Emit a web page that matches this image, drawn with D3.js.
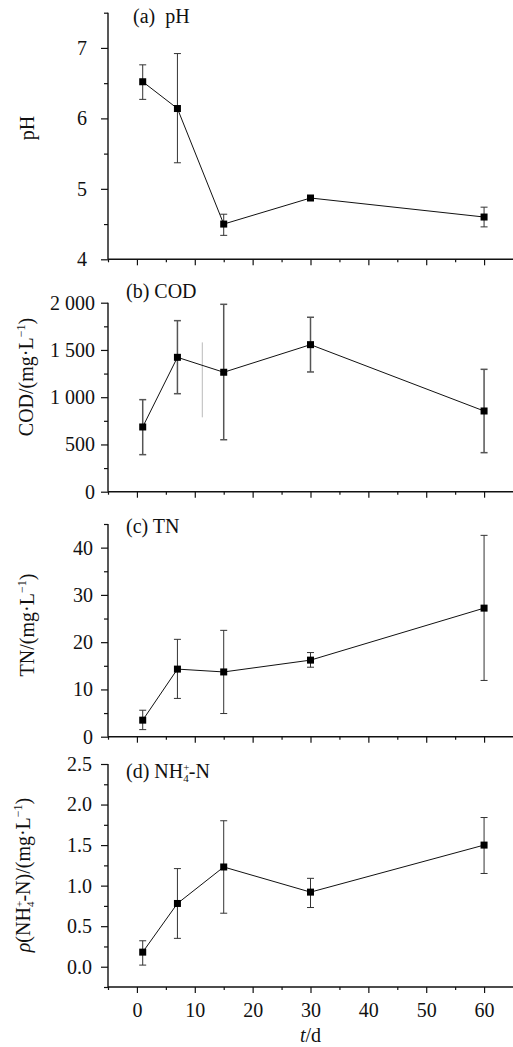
<!DOCTYPE html>
<html>
<head>
<meta charset="utf-8">
<script src="https://cdn.jsdelivr.net/npm/d3@7"></script>
<style>
    body { margin: 0; background: #fff; }
    svg text { font-family: "Liberation Serif", "Times New Roman", serif; fill: #111; }
</style>
</head>
<body>
<script>
// sampling days
const days = [1, 7, 15, 30, 60]
const xTicks = [0, 10, 20, 30, 40, 50, 60]

// (a) pH
const phMean = [6.52, 6.14, 4.50, 4.87, 4.60]
const phLow = [6.27, 5.37, 4.34, 4.84, 4.46]
const phHigh = [6.76, 6.92, 4.64, 4.90, 4.74]

// (b) COD, mg/L
const codMean = [685, 1422, 1264, 1556, 854]
const codLow = [392, 1037, 550, 1267, 413]
const codHigh = [974, 1810, 1983, 1846, 1295]
// stray grey line in the source figure
const codStray = { day: 11.3, low: 787, high: 1580 }

// (c) TN, mg/L
const tnMean = [3.5, 14.3, 13.7, 16.2, 27.2]
const tnLow = [1.5, 8.1, 4.9, 14.7, 11.9]
const tnHigh = [5.6, 20.6, 22.5, 17.8, 42.6]

// (d) NH4+-N, mg/L
const nhMean = [0.18, 0.78, 1.23, 0.92, 1.50]
const nhLow = [0.02, 0.35, 0.66, 0.73, 1.15]
const nhHigh = [0.32, 1.21, 1.80, 1.09, 1.84]

const W = 513, H = 1047
const left = 108, right = 513
const fs = '20px'

const svg = d3.select('body').append('svg')
    .attr('width', W)
    .attr('height', H)

const x = d3.scaleLinear().domain([-5, 65]).range([left, right])

const panels = [
    { top: 12.7, bottom: 259.3, domain: [4, 7.5], major: [4, 5, 6, 7], minor: [4.5, 5.5, 6.5, 7.5], pad: 14,
      fmt: d3.format('d'), mean: phMean, low: phLow, high: phHigh, tag: 'a', labelY: 128, labelX: 34 },
    { top: 302.7, bottom: 491.7, domain: [0, 2000], major: [0, 500, 1000, 1500, 2000], minor: [250, 750, 1250, 1750], pad: 6,
      fmt: v => d3.format(',')(v).replace(',', ' '), mean: codMean, low: codLow, high: codHigh, tag: 'b', labelY: 377, labelX: 33 },
    { top: 524, bottom: 736.7, domain: [0, 45], major: [0, 10, 20, 30, 40], minor: [5, 15, 25, 35, 45], pad: 8,
      fmt: d3.format('d'), mean: tnMean, low: tnLow, high: tnHigh, tag: 'c', labelY: 625, labelX: 34 },
    { top: 764, bottom: 987, domain: [-0.25, 2.5], major: [0, 0.5, 1, 1.5, 2, 2.5], minor: [-0.25, 0.25, 0.75, 1.25, 1.75, 2.25], pad: 9,
      fmt: d3.format('.1f'), mean: nhMean, low: nhLow, high: nhHigh, tag: 'd', labelY: 875, labelX: 30 }
]

panels.forEach((p, pi) => {
    const y = d3.scaleLinear().domain(p.domain).range([p.bottom, p.top])
    const g = svg.append('g')

    // x axis: major + minor ticks, labels only on the last panel
    const xAxis = g.append('g')
        .attr('transform', `translate(0,${p.bottom})`)
        .call(d3.axisBottom(x).tickValues(xTicks).tickSize(6).tickPadding(10)
            .tickFormat(pi === 3 ? d3.format('d') : ''))
    xAxis.select('.domain').attr('stroke', '#111').attr('stroke-width', 1.4).attr('d', `M${left},0H${right}`)
    xAxis.selectAll('.tick line').attr('stroke', '#111').attr('stroke-width', 1.2)
    xAxis.selectAll('text').style('font-size', fs).attr('fill', '#111')

    const xMinor = g.append('g')
        .attr('transform', `translate(0,${p.bottom})`)
        .call(d3.axisBottom(x).tickValues([-5, 5, 15, 25, 35, 45, 55]).tickSize(3).tickFormat(''))
    xMinor.select('.domain').remove()
    xMinor.selectAll('.tick line').attr('stroke', '#111').attr('stroke-width', 1.2)

    // y axis
    const yAxis = g.append('g')
        .attr('transform', `translate(${left},0)`)
        .call(d3.axisLeft(y).tickValues(p.major).tickSize(7).tickPadding(p.pad).tickFormat(p.fmt))
    yAxis.select('.domain').attr('stroke', '#111').attr('stroke-width', 1.4).attr('d', `M0,${p.top}V${p.bottom}`)
    yAxis.selectAll('.tick line').attr('stroke', '#111').attr('stroke-width', 1.2)
    yAxis.selectAll('text').style('font-size', fs).attr('fill', '#111')

    const yMinor = g.append('g')
        .attr('transform', `translate(${left},0)`)
        .call(d3.axisLeft(y).tickValues(p.minor).tickSize(4).tickFormat(''))
    yMinor.select('.domain').remove()
    yMinor.selectAll('.tick line').attr('stroke', '#111').attr('stroke-width', 1.2)

    svg.selectAll('g[font-family]').attr('font-family', null)

    const pts = days.map((d, i) => ({ day: d, mean: p.mean[i], low: p.low[i], high: p.high[i] }))

    if (p.tag === 'b') {
        g.append('line')
            .attr('x1', x(codStray.day)).attr('x2', x(codStray.day))
            .attr('y1', y(codStray.low)).attr('y2', y(codStray.high))
            .attr('stroke', '#bbb').attr('stroke-width', 1)
    }

    // error bars
    const eb = g.selectAll('g.eb').data(pts).enter().append('g').attr('class', 'eb')
        .attr('stroke', p.tag === 'b' ? '#555' : '#333')
        .attr('stroke-width', p.tag === 'b' ? 1.5 : 1)
    eb.append('line')
        .attr('x1', d => x(d.day)).attr('x2', d => x(d.day))
        .attr('y1', d => y(d.low)).attr('y2', d => y(d.high))
    eb.append('line')
        .attr('x1', d => x(d.day) - 3.5).attr('x2', d => x(d.day) + 3.5)
        .attr('y1', d => y(d.low)).attr('y2', d => y(d.low))
    eb.append('line')
        .attr('x1', d => x(d.day) - 3.5).attr('x2', d => x(d.day) + 3.5)
        .attr('y1', d => y(d.high)).attr('y2', d => y(d.high))

    // connecting line
    g.append('path')
        .datum(pts)
        .attr('fill', 'none')
        .attr('stroke', '#111')
        .attr('stroke-width', 1)
        .attr('d', d3.line().x(d => x(d.day)).y(d => y(d.mean)))

    // square markers
    g.selectAll('rect.pt').data(pts).enter().append('rect')
        .attr('class', 'pt')
        .attr('x', d => x(d.day) - 3.5)
        .attr('y', d => y(d.mean) - 3.5)
        .attr('width', 7).attr('height', 7)
        .attr('fill', '#000')

    // panel tag
    const tag = g.append('text')
        .attr('y', p.top + (p.tag === 'a' ? 10.6 : p.tag === 'b' ? -4.5 : p.tag === 'c' ? 8.5 : 14))
        .attr('x', p.tag === 'a' ? 133 : 126)
        .style('font-size', fs)
    // y title
    const title = g.append('text')
        .attr('transform', `translate(${p.labelX},${p.labelY}) rotate(-90)`)
        .attr('text-anchor', 'middle')
        .style('font-size', fs)

    if (p.tag === 'a') {
        tag.text('(a)  pH').attr('xml:space', 'preserve').style('white-space', 'pre')
        title.text('pH')
    } else if (p.tag === 'b') {
        tag.text('(b) COD')
        title.append('tspan').text('COD/(mg·L')
        title.append('tspan').attr('dy', -8).style('font-size', '12px').text('−1')
        title.append('tspan').attr('dy', 8).text(')')
    } else if (p.tag === 'c') {
        tag.text('(c) TN')
        title.append('tspan').text('TN/(mg·L')
        title.append('tspan').attr('dy', -8).style('font-size', '12px').text('−1')
        title.append('tspan').attr('dy', 8).text(')')
    } else {
        tag.append('tspan').text('(d) NH')
        tag.append('tspan').attr('dy', -7).style('font-size', '11px').text('+')
        tag.append('tspan').attr('dx', -6.2).attr('dy', 11).style('font-size', '11px').text('4')
        tag.append('tspan').attr('dy', -4).text('-N')

        title.append('tspan').style('font-style', 'italic').text('ρ')
        title.append('tspan').text('(NH')
        title.append('tspan').attr('dy', -7).style('font-size', '11px').text('+')
        title.append('tspan').attr('dx', -6.2).attr('dy', 11).style('font-size', '11px').text('4')
        title.append('tspan').attr('dy', -4).text('-N)/(mg·L')
        title.append('tspan').attr('dy', -8).style('font-size', '12px').text('−1')
        title.append('tspan').attr('dy', 8).text(')')
    }
})

// x axis title
const xt = svg.append('text')
    .attr('x', x(30))
    .attr('y', 1042)
    .attr('text-anchor', 'middle')
    .style('font-size', fs)
xt.append('tspan').style('font-style', 'italic').text('t')
xt.append('tspan').text('/d')
</script>
</body>
</html>
